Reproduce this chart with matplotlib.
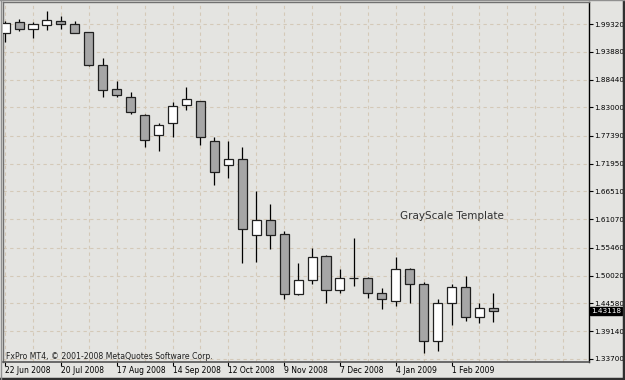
import matplotlib
matplotlib.use('Agg')
import matplotlib.pyplot as plt
import numpy as np

# --------------------------------------------------
# DATA  (weekly GBP/USD candles, 22 Jun 2008 .. 22 Feb 2009)
# --------------------------------------------------

opens = [1.9762, 1.9965, 1.9828, 1.9912, 1.9997, 1.9932, 1.9769, 1.9123, 1.8665,
         1.8508, 1.8144, 1.7758, 1.7987, 1.8345, 1.8424, 1.7646, 1.7164, 1.7282,
         1.5799, 1.6093, 1.5813, 1.4637, 1.4912, 1.5394, 1.4722, 1.4951, 1.4951,
         1.4657, 1.4512, 1.5133, 1.4833, 1.3729, 1.4473, 1.4775, 1.4187, 1.4375]
highs = [1.9990, 2.0024, 1.9965, 2.0181, 2.0095, 1.9991, 1.9781, 1.9260, 1.8810,
         1.8600, 1.8163, 1.7987, 1.8398, 1.8692, 1.8430, 1.7724, 1.7640, 1.7529,
         1.6667, 1.6400, 1.5877, 1.5245, 1.5538, 1.5407, 1.5127, 1.5734, 1.4982,
         1.4755, 1.5362, 1.5147, 1.4884, 1.4539, 1.4839, 1.4996, 1.4473, 1.4669]
lows = [1.9585, 1.9801, 1.9652, 1.9820, 1.9828, 1.9750, 1.9115, 1.8508, 1.8502,
        1.8175, 1.7529, 1.7450, 1.7724, 1.8253, 1.7562, 1.6778, 1.6921, 1.5245,
        1.5264, 1.5525, 1.4545, 1.4630, 1.4833, 1.4461, 1.4669, 1.4806, 1.4571,
        1.4344, 1.4414, 1.4461, 1.3482, 1.3533, 1.4036, 1.4120, 1.4081, 1.4101]
closes = [1.9958, 1.9828, 1.9926, 2.0005, 1.9932, 1.9762, 1.9123, 1.8639, 1.8535,
          1.8214, 1.7660, 1.7948, 1.8326, 1.8463, 1.7713, 1.7039, 1.7282, 1.5911,
          1.6093, 1.5799, 1.4643, 1.4912, 1.5362, 1.4722, 1.4951, 1.4949, 1.4657,
          1.4539, 1.5133, 1.4839, 1.3729, 1.4473, 1.4775, 1.4187, 1.4375, 1.43118]

date_labels = ['22 Jun 2008', '20 Jul 2008', '17 Aug 2008', '14 Sep 2008',
               '12 Oct 2008', '9 Nov 2008', '7 Dec 2008', '4 Jan 2009', '1 Feb 2009']
price_ticks = [1.99320, 1.93880, 1.88440, 1.83000, 1.77390, 1.71950, 1.66510,
               1.61070, 1.55460, 1.50020, 1.44580, 1.39140, 1.33700]
last_price = '1.43118'

# --------------------------------------------------
# STYLE
# --------------------------------------------------

bg = '#e4e4e1'
grid_col = '#d4c9b8'
up_col = 'white'
down_col = '#a6a6a6'

fig = plt.figure(figsize=(6.25, 3.8), dpi=100, facecolor=bg)
ax = fig.add_axes([3 / 625, 18 / 380, 586 / 625, 360 / 380])
ax.set_facecolor(bg)

idx = np.arange(len(opens))
o = np.array(opens)
c = np.array(closes)
h = np.array(highs)
l = np.array(lows)

# --------------------------------------------------
# CANDLES
# --------------------------------------------------

ax.vlines(idx, l, h, color='black', lw=0.9, zorder=2)
body_low = np.minimum(o, c)
body_h = np.maximum(np.abs(c - o), 0.0004)
fills = [up_col if cc > oo else down_col for oo, cc in zip(o, c)]
ax.bar(idx, body_h, bottom=body_low, width=0.65, color=fills,
       edgecolor='#202020', lw=0.9, zorder=3)

# --------------------------------------------------
# AXES / GRID
# --------------------------------------------------

ax.set_xlim(-0.15, 41.85)
ax.set_ylim(1.3311, 2.0363)

for g in np.arange(0, 42, 2):
    ax.axvline(g, color=grid_col, lw=0.8, ls=(0, (3, 3)), zorder=1)
for p in price_ticks:
    ax.axhline(p, color=grid_col, lw=0.8, ls=(0, (3, 3)), zorder=1)

ax.yaxis.tick_right()
ax.set_yticks(price_ticks, [f'{p:.5f}' for p in price_ticks])
ax.set_xticks(np.arange(0, 4 * len(date_labels), 4), date_labels, ha='left')
ax.tick_params(axis='y', length=3, width=0.8, pad=1, labelsize=5.2, colors='black')
ax.tick_params(axis='x', length=3, width=0.8, pad=0, labelsize=5.5, colors='black')

for side in ['top', 'left']:
    ax.spines[side].set_color('#707070')
    ax.spines[side].set_linewidth(1.0)
ax.spines['right'].set_color('black')
ax.spines['right'].set_linewidth(1.0)
ax.spines['bottom'].set_color('#555555')
ax.spines['bottom'].set_linewidth(1.2)

# --------------------------------------------------
# TEXT
# --------------------------------------------------

ax.text(0.677, 0.406, 'GrayScale Template', transform=ax.transAxes,
        fontsize=7.5, color='#303030', ha='left', va='center')
ax.text(0.005, 0.004, 'FxPro MT4, \u00a9 2001-2008 MetaQuotes Software Corp.',
        transform=ax.transAxes, fontsize=5.6, color='#202020', ha='left', va='bottom')

# current price box
ax.text(1.004, (closes[-1] - 1.3311) / (2.0363 - 1.3311), last_price,
        transform=ax.transAxes, fontsize=5.2, color='white', ha='left', va='center',
        bbox=dict(boxstyle='square,pad=0.15', fc='black', ec='black'), zorder=5)

# window frame
fig.add_artist(plt.Line2D([0, 1], [0.002, 0.002], transform=fig.transFigure,
                          color='#303030', lw=2.5))
fig.add_artist(plt.Line2D([0.998, 0.998], [0, 1], transform=fig.transFigure,
                          color='#303030', lw=2.5))
fig.add_artist(plt.Line2D([0, 1], [0.999, 0.999], transform=fig.transFigure,
                          color='#909090', lw=1))
fig.add_artist(plt.Line2D([0.001, 0.001], [0, 1], transform=fig.transFigure,
                          color='#909090', lw=1))

fig.savefig('out.png', dpi=100, facecolor=bg)
